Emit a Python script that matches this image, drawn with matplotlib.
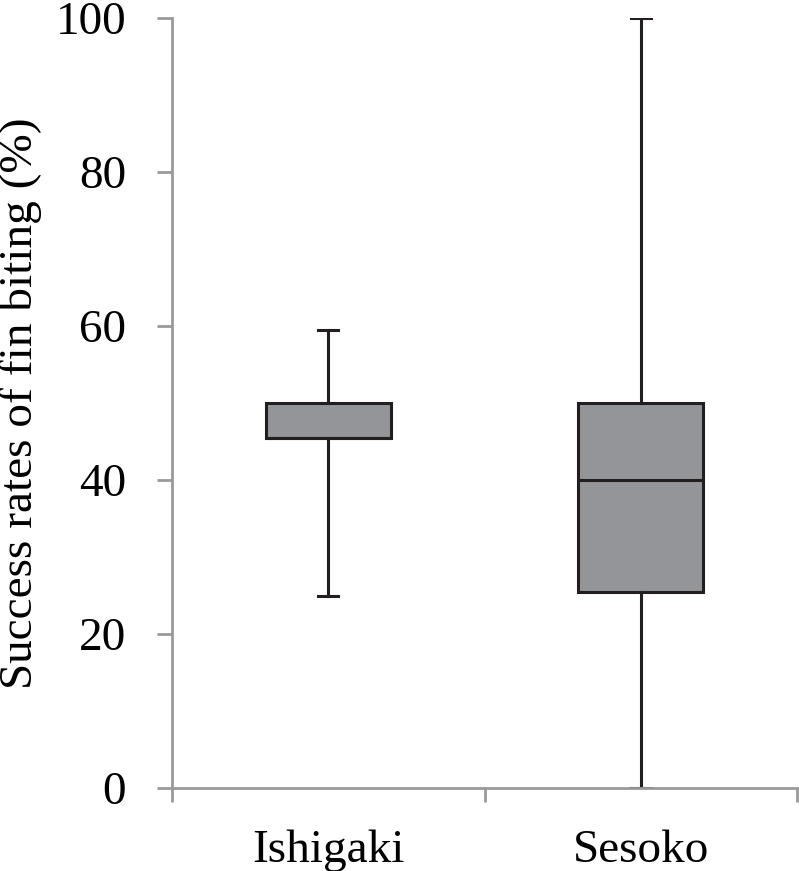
import matplotlib
matplotlib.use("Agg")
import matplotlib.pyplot as plt

# data
sites = ["Ishigaki", "Sesoko"]
whislo = [25.0, 0.0]
q1 = [45.5, 25.5]
med = [45.5, 40.0]
q3 = [50.0, 50.0]
whishi = [59.5, 100.0]

plt.rcParams["font.family"] = ["Liberation Serif", "DejaVu Serif"]

fig = plt.figure(figsize=(7.99, 8.71), dpi=100)
ax = fig.add_axes([0.2153, 0.0953, 0.7822, 0.884])

stats = []
for i in range(len(sites)):
    stats.append(dict(label=sites[i], whislo=whislo[i], q1=q1[i], med=med[i],
                      q3=q3[i], whishi=whishi[i], fliers=[]))

ax.bxp(stats, positions=[0.5, 1.5], widths=0.4, patch_artist=True,
       showfliers=False,
       boxprops=dict(facecolor="#939598", edgecolor="#231f20", linewidth=2.2),
       medianprops=dict(color="#231f20", linewidth=2.2),
       whiskerprops=dict(color="#231f20", linewidth=2.2),
       capprops=dict(color="#231f20", linewidth=2.2),
       capwidths=0.065)

ax.set_xlim(0, 2)
ax.set_ylim(0, 100)
ax.set_yticks([0, 20, 40, 60, 80, 100])
ax.set_xticks([0, 1, 2])
ax.set_xticklabels([])
ax.set_xticks([0.5, 1.5], minor=True)
ax.set_xticklabels(sites, minor=True, fontsize=34)
ax.tick_params(axis="x", which="minor", length=0, pad=30)
ax.tick_params(axis="x", which="major", length=10, width=2, color="#999999", direction="out")
ax.tick_params(axis="y", length=11, width=2, color="#999999", direction="out",
               labelsize=34, pad=22)

for s in ["top", "right"]:
    ax.spines[s].set_visible(False)
for s in ["left", "bottom"]:
    ax.spines[s].set_color("#999999")
    ax.spines[s].set_linewidth(2)
    ax.spines[s].set_clip_on(False)

ax.set_ylabel("Success rates of fin biting (%)", fontsize=34, labelpad=10)

fig.savefig("out.png", dpi=100)
